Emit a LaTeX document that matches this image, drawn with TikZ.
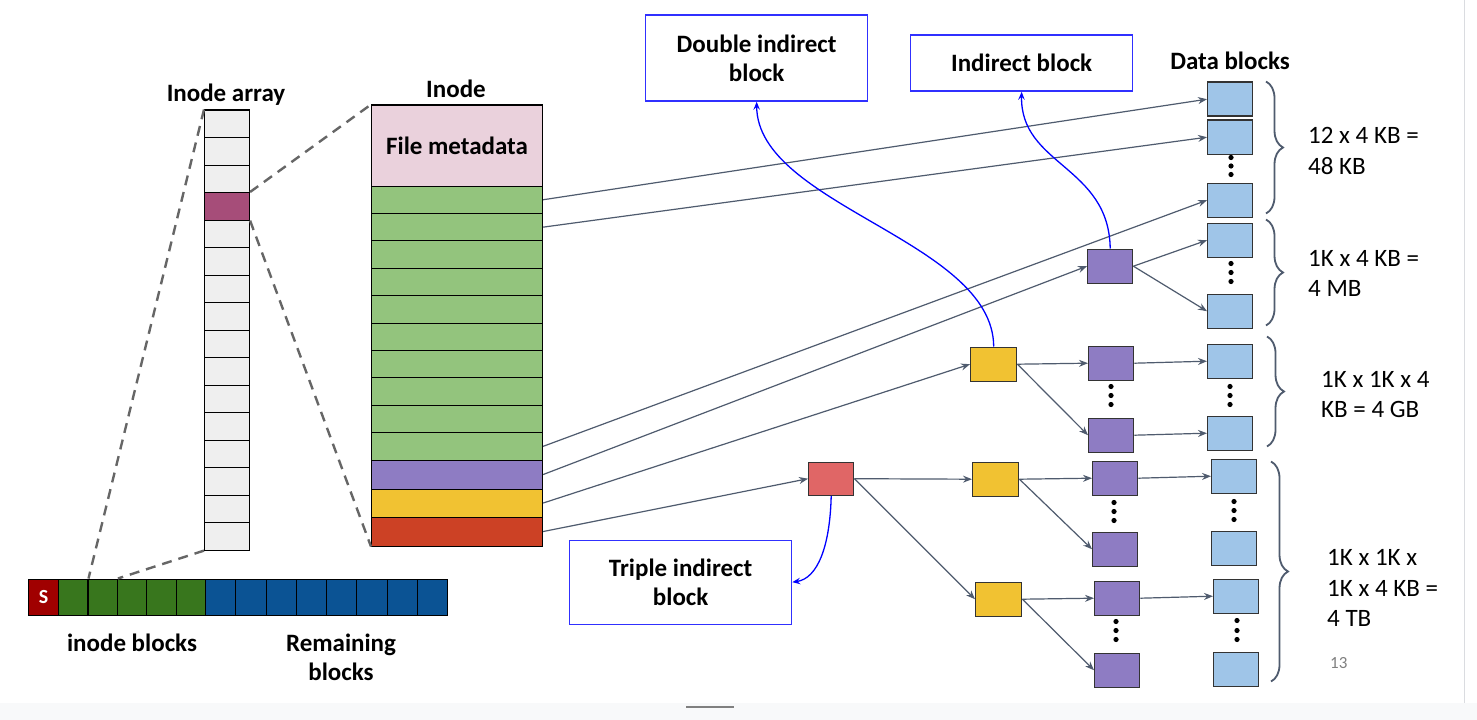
\documentclass[tikz,border=0pt]{standalone}
\usepackage{fontspec}
\setmainfont{Carlito}
\usetikzlibrary{arrows.meta,decorations.pathreplacing}
\definecolor{cellgray}{HTML}{EFEFEF}
\definecolor{arrpurp}{HTML}{A64D79}
\definecolor{meta}{HTML}{EAD1DC}
\definecolor{igreen}{HTML}{93C47D}
\definecolor{ipurple}{HTML}{8E7CC3}
\definecolor{iyellow}{HTML}{F1C232}
\definecolor{ired}{HTML}{CC4125}
\definecolor{tred}{HTML}{E06666}
\definecolor{dblue}{HTML}{9FC5E8}
\definecolor{sred}{HTML}{A00000}
\definecolor{sgreen}{HTML}{38761D}
\definecolor{sblue}{HTML}{0B5394}
\definecolor{ptrcol}{HTML}{4F5B6E}
\definecolor{blkline}{HTML}{333333}
\definecolor{dashcol}{HTML}{666666}
\definecolor{callblue}{HTML}{3030FF}
\definecolor{stripcol}{HTML}{F8F9FA}
\definecolor{edgecol}{HTML}{DADCE0}
\newcommand\lblfont{\fontsize{25}{29.5}\selectfont\bfseries}
\newcommand\txtfont{\fontsize{25}{30.5}\selectfont}
\begin{document}
\begin{tikzpicture}[x=1pt,y=-1pt,
  cell/.style={draw=black, line width=1.1pt, inner sep=0pt, anchor=north west},
  blk/.style={draw=blkline, line width=1.4pt, inner sep=0pt, anchor=north west, minimum width=45pt, minimum height=34pt},
  callout/.style={draw=callblue, line width=1.3pt, fill=white, anchor=north west, inner sep=0pt, align=center, font=\lblfont},
  lbl/.style={font=\lblfont, inner sep=0pt, align=center},
  txt/.style={font=\txtfont, inner sep=0pt, align=left, anchor=west},
  ptr/.style={draw=ptrcol, line width=1.2pt, -{Stealth[length=9pt,width=7pt,inset=3pt]}},
  bluearr/.style={draw=blue, line width=1.3pt, -{Stealth[length=8pt,width=6.5pt,inset=3pt]}},
  brc/.style={draw=ptrcol, line width=1.8pt, decorate, decoration={brace, amplitude=17pt}},
  dashl/.style={draw=dashcol, line width=2.4pt, dash pattern=on 10pt off 7pt}]
% background
\fill[white] (0,0) rectangle (1477,719);
\fill[stripcol] (0,702) rectangle (1477,719);
\draw[edgecol, line width=1pt] (1464,0) -- (1464,702);
\draw[gray, line width=2pt] (686,706) -- (734,706);

% inode array
\foreach \i in {0,...,15} {
  \node[cell, fill=cellgray, minimum width=45pt, minimum height=27.5pt] (ia\i) at (204,{109+27.5*\i}) {};
}
\node[cell, fill=arrpurp, minimum width=45pt, minimum height=27.5pt] (ia3) at (204,191.5) {};
\node[lbl] (arrlbl) at (226,94) {Inode array};

% bottom bar
\node[cell, fill=sred, minimum width=30pt, minimum height=36pt, text=white, font=\fontsize{20}{22}\selectfont\bfseries] (sb) at (28,578) {S};
\foreach \i in {1,...,5} {
  \node[cell, fill=sgreen, minimum width=29.4pt, minimum height=36pt] (gb\i) at ({58+29.4*(\i-1)},578) {};
}
\foreach \i in {1,...,8} {
  \node[cell, fill=sblue, minimum width=30.25pt, minimum height=36pt] (bb\i) at ({205+30.25*(\i-1)},578) {};
}
\node[lbl] (inlbl) at (132,642) {inode blocks};
\node[lbl] (remlbl) at (341,657) {Remaining\\blocks};

% inode
\node[lbl] (inodelbl) at (456,88) {Inode};
\node[cell, fill=meta, minimum width=171pt, minimum height=81pt, font=\lblfont] (meta) at (371,104) {File metadata};
\foreach \i in {1,...,10} {
  \node[cell, fill=igreen, minimum width=171pt, minimum height=27.4pt] (g\i) at (371,{185+27.4*(\i-1)}) {};
}
\node[cell, fill=ipurple, minimum width=171pt, minimum height=29pt] (ipur) at (371,459) {};
\node[cell, fill=iyellow, minimum width=171pt, minimum height=28pt] (iyel) at (371,488) {};
\node[cell, fill=ired, minimum width=171pt, minimum height=29pt] (ired) at (371,516) {};

% dashed zoom lines
\draw[dashl] (ia3.north east) -- (meta.north west);
\draw[dashl] (ia3.south east) -- (ired.south west);
\draw[dashl] (ia0.north west) -- (gb1.north east);
\draw[dashl] (ia15.south west) -- (gb2.north east);

% callouts
\node[callout, minimum width=222pt, minimum height=86pt] (dbl) at (645,14) {Double indirect\\block};
\node[callout, minimum width=222pt, minimum height=56pt] (ind) at (910,34) {Indirect block};
\node[callout, minimum width=222pt, minimum height=84pt] (tri) at (569,539) {Triple indirect\\block};
\node[lbl] (datalbl) at (1230,60) {Data blocks};

% data blocks
\node[blk, fill=dblue] (d1) at (1207,81) {};
\node[blk, fill=dblue] (d2) at (1207,119) {};
\node[blk, fill=dblue] (d3) at (1207,182) {};
\node[blk, fill=dblue] (d4) at (1207,222) {};
\node[blk, fill=dblue] (d5) at (1207,293) {};
\node[blk, fill=dblue] (d6) at (1207,343) {};
\node[blk, fill=dblue] (d7) at (1207,415) {};
\node[blk, fill=dblue] (d8) at (1211,458) {};
\node[blk, fill=dblue] (d9) at (1211,530) {};
\node[blk, fill=dblue] (d10) at (1213,578) {};
\node[blk, fill=dblue] (d11) at (1213,651) {};

% purple blocks
\node[blk, fill=ipurple] (pI) at (1087,248) {};
\node[blk, fill=ipurple] (pa) at (1088,345) {};
\node[blk, fill=ipurple] (pb) at (1088,417) {};
\node[blk, fill=ipurple] (pc) at (1092,460) {};
\node[blk, fill=ipurple] (pd) at (1092,531) {};
\node[blk, fill=ipurple] (pe) at (1094,580) {};
\node[blk, fill=ipurple] (pf) at (1094,652) {};

% yellow + red blocks
\node[blk, fill=iyellow, minimum width=46pt] (yD) at (970,346) {};
\node[blk, fill=iyellow, minimum width=46pt] (yA) at (972,461) {};
\node[blk, fill=iyellow, minimum width=46pt] (yB) at (975,581) {};
\node[blk, fill=tred, minimum height=33pt] (rT) at (808,461) {};

% dots
\foreach \x/\y in {1231/157,1231/165.5,1231/174,
                   1231/263,1231/272,1231/281,
                   1111/386,1111/395,1111/404, 1230/386,1230/395,1230/404,
                   1114/502,1114/511,1114/520, 1234/501,1234/510,1234/519,
                   1116/621,1116/630,1116/639, 1237/620,1237/630,1237/639}
  \fill (\x,\y) circle (2.6pt);

% pointers from inode
\draw[ptr] (g1.east) -- (d1.west);
\draw[ptr] (g2.east) -- (d2.west);
\draw[ptr] (g10.east) -- (d3.west);
\draw[ptr] (ipur.east) -- (pI.west);
\draw[ptr] (iyel.east) -- (yD.west);
\draw[ptr] (ired.east) -- (rT.west);
% indirect
\draw[ptr] (pI.east) -- (d4.west);
\draw[ptr] (pI.east) -- (d5.west);
% double
\draw[ptr] (yD.east) -- (pa.west);
\draw[ptr] (yD.east) -- (pb.west);
\draw[ptr] (pa.east) -- (d6.west);
\draw[ptr] (pb.east) -- (d7.west);
% triple
\draw[ptr] (rT.east) -- (yA.west);
\draw[ptr] (rT.east) -- (yB.west);
\draw[ptr] (yA.east) -- (pc.west);
\draw[ptr] (yA.east) -- (pd.west);
\draw[ptr] (yB.east) -- (pe.west);
\draw[ptr] (yB.east) -- (pf.west);
\draw[ptr] (pc.east) -- (d8.west);
\draw[ptr] (pe.east) -- (d10.west);

% blue label arrows
\draw[bluearr] (yD.north) .. controls (993,240) and (757,205) .. (dbl.south);
\draw[bluearr] (pI.north) .. controls (1109,165) and (1020,165) .. (ind.south);
\draw[bluearr] (rT.south) .. controls (830,545) and (818,578) .. (tri.east);

% braces
\draw[brc] (1266,81) -- (1266,213);
\draw[brc] (1266,219) -- (1266,325);
\draw[brc] (1267,336) -- (1267,446);
\draw[brc] (1271,461) -- (1271,681);

% size texts
\node[txt] (s1) at (1308,150.5) {12 x 4 KB =\\48 KB};
\node[txt] (s2) at (1308,273) {1K x 4 KB =\\4 MB};
\node[txt] (s3) at (1321,394) {1K x 1K x 4\\KB = 4 GB};
\node[txt] (s4) at (1327,587.5) {1K x 1K x\\1K x 4 KB =\\4 TB};
\node[font=\fontsize{17}{20}\selectfont, text=gray, inner sep=0pt, anchor=west] (pg) at (1330,663) {13};
\end{tikzpicture}
\end{document}
